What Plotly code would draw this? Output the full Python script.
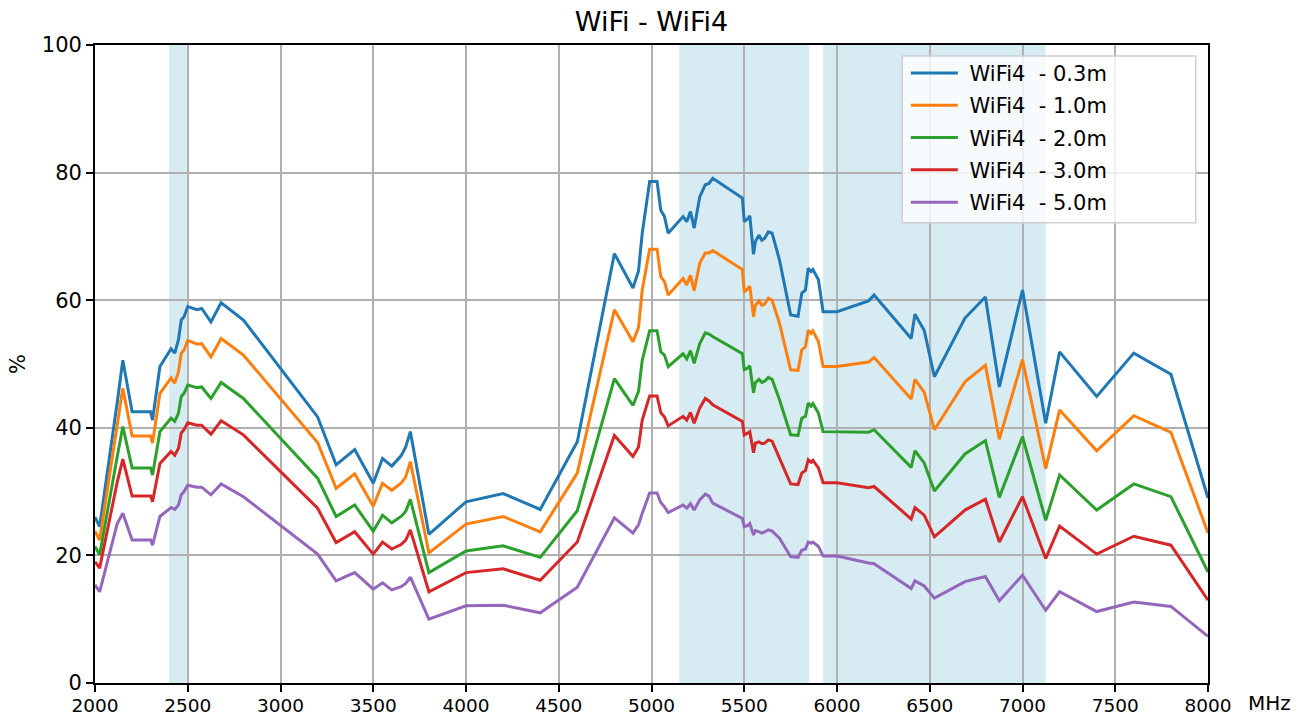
import plotly.graph_objects as go

freq = [2000, 2025, 2120, 2150, 2200, 2300, 2310, 2350, 2410, 2430, 2450, 2465, 2480, 2500,
        2550, 2575, 2625, 2680, 2800, 3200, 3300, 3400, 3500, 3550, 3600, 3650, 3675, 3700,
        3800, 4000, 4200, 4400, 4600, 4800, 4900, 4930, 4950, 4990, 5030, 5050, 5070, 5090,
        5170, 5190, 5210, 5230, 5260, 5290, 5310, 5330, 5490, 5500, 5520, 5530, 5550, 5560,
        5580, 5595, 5610, 5630, 5650, 5690, 5750, 5790, 5810, 5830, 5845, 5860, 5870, 5900,
        5925, 6000, 6170, 6200, 6400, 6420, 6470, 6525, 6690, 6800, 6875, 7000, 7125, 7200,
        7400, 7600, 7800, 8000]

wifi4_03 = [26.0, 24.5, 44.0, 50.6, 42.5, 42.5, 41.2, 49.6, 52.4, 51.7, 53.8, 56.9, 57.4, 59.0,
            58.5, 58.7, 56.6, 59.6, 56.9, 41.7, 34.2, 36.6, 31.3, 35.2, 34.0, 35.6, 37.0, 39.4,
            23.3, 28.4, 29.7, 27.2, 37.8, 67.3, 61.9, 64.6, 70.5, 78.6, 78.6, 74.1, 73.1, 70.5,
            73.1, 72.3, 73.9, 71.3, 76.2, 78.1, 78.3, 79.1, 76.0, 72.3, 72.8, 73.2, 67.2, 69.2,
            70.2, 69.4, 69.7, 70.7, 70.5, 66.3, 57.7, 57.5, 61.1, 61.6, 65.0, 64.5, 64.8, 63.2,
            58.2, 58.2, 59.9, 60.8, 54.0, 57.8, 55.3, 48.0, 57.2, 60.5, 46.4, 61.6, 40.7, 51.9,
            44.9, 51.7, 48.4, 29.0]

wifi4_10 = [23.8, 22.4, 40.5, 46.2, 38.7, 38.7, 37.6, 45.4, 47.8, 47.0, 48.8, 51.7, 52.2, 53.7,
            53.1, 53.2, 51.1, 54.0, 51.4, 37.7, 30.5, 32.8, 27.7, 31.3, 30.2, 31.3, 32.3, 34.7,
            20.4, 24.9, 26.1, 23.7, 32.9, 58.5, 53.5, 55.7, 61.6, 68.0, 68.0, 63.7, 62.9, 60.8,
            63.4, 62.4, 63.9, 61.5, 65.8, 67.4, 67.4, 67.8, 64.8, 61.3, 61.8, 62.2, 57.4, 59.2,
            59.9, 59.2, 59.4, 60.3, 60.0, 56.4, 49.1, 49.0, 52.2, 52.7, 55.3, 54.8, 55.2, 53.5,
            49.6, 49.6, 50.3, 51.0, 44.5, 47.6, 45.6, 39.7, 47.2, 49.8, 38.2, 50.7, 33.6, 42.8,
            36.4, 41.9, 39.3, 23.5]

wifi4_20 = [21.4, 20.1, 35.5, 40.2, 33.7, 33.7, 32.6, 39.4, 41.5, 41.0, 42.3, 44.9, 45.4, 46.7,
            46.3, 46.4, 44.6, 47.1, 44.6, 32.1, 26.1, 27.9, 23.8, 26.3, 25.1, 26.1, 26.9, 28.8,
            17.3, 20.7, 21.5, 19.7, 27.0, 47.7, 43.5, 45.7, 50.6, 55.2, 55.2, 51.9, 51.4, 49.6,
            51.6, 50.8, 52.1, 50.1, 53.2, 54.9, 54.7, 54.3, 51.6, 49.1, 49.4, 49.7, 45.5, 47.1,
            47.6, 47.1, 47.3, 47.9, 47.6, 44.4, 38.9, 38.8, 41.5, 41.8, 43.9, 43.4, 43.8, 42.3,
            39.4, 39.4, 39.3, 39.7, 33.8, 36.4, 34.5, 30.1, 35.9, 38.0, 29.1, 38.6, 25.5, 32.6,
            27.1, 31.2, 29.2, 17.4]

wifi4_30 = [19.0, 18.0, 31.5, 35.1, 29.3, 29.3, 28.4, 34.4, 36.3, 35.7, 36.8, 39.2, 39.7, 40.8,
            40.4, 40.4, 39.0, 41.1, 38.9, 27.4, 22.0, 23.7, 20.2, 22.1, 21.0, 21.7, 22.4, 24.0,
            14.3, 17.3, 17.9, 16.1, 22.1, 38.8, 35.5, 37.0, 41.2, 45.0, 45.0, 42.4, 41.7, 40.3,
            41.8, 41.2, 42.4, 40.7, 43.1, 44.6, 44.2, 43.6, 41.0, 38.9, 39.2, 39.4, 36.1, 37.6,
            37.8, 37.5, 37.6, 38.1, 37.9, 35.2, 31.2, 31.1, 32.9, 33.3, 35.0, 34.6, 34.9, 33.7,
            31.4, 31.4, 30.6, 30.8, 25.7, 27.5, 26.3, 22.9, 27.1, 28.8, 22.1, 29.2, 19.5, 24.6,
            20.2, 23.0, 21.6, 13.0]

wifi4_50 = [15.4, 14.3, 25.0, 26.6, 22.4, 22.4, 21.6, 26.1, 27.5, 27.2, 27.9, 29.5, 30.0, 31.0,
            30.7, 30.7, 29.5, 31.2, 29.2, 20.2, 16.0, 17.3, 14.7, 15.7, 14.6, 15.1, 15.6, 16.6,
            10.0, 12.1, 12.2, 11.0, 15.0, 25.9, 23.5, 24.8, 26.6, 29.8, 29.8, 28.3, 27.6, 26.7,
            27.9, 27.4, 28.1, 27.1, 28.7, 29.6, 29.3, 28.2, 25.8, 24.5, 24.7, 25.0, 23.2, 23.9,
            23.7, 23.5, 23.7, 24.0, 23.8, 22.7, 19.8, 19.7, 20.8, 21.0, 22.1, 21.9, 22.1, 21.4,
            19.9, 19.9, 18.8, 18.7, 14.8, 16.0, 15.2, 13.3, 15.9, 16.7, 12.9, 16.9, 11.4, 14.3,
            11.2, 12.7, 12.0, 7.3]

series_names = ["\u00a0WiFi4 \u00a0- 0.3m", "\u00a0WiFi4 \u00a0- 1.0m", "\u00a0WiFi4 \u00a0- 2.0m",
                "\u00a0WiFi4 \u00a0- 3.0m", "\u00a0WiFi4 \u00a0- 5.0m"]
series_values = [wifi4_03, wifi4_10, wifi4_20, wifi4_30, wifi4_50]
colors = ["#1f77b4", "#ff7f0e", "#2ca02c", "#d62728", "#9467bd"]

# WiFi bands shaded in the background
bands = [(2400, 2500), (5150, 5850), (5925, 7125)]

fig = go.Figure()
for name, vals, col in zip(series_names, series_values, colors):
    fig.add_trace(go.Scatter(x=freq, y=vals, mode="lines", name=name, legendgroup=name,
                             line=dict(color=col, width=3)))

for x0, x1 in bands:
    fig.add_vrect(x0=x0, x1=x1, fillcolor="#add8e6", opacity=0.5, line_width=0, layer="below")

# legend frame (semi-transparent white box like matplotlib)
fig.add_shape(type="rect", xref="paper", yref="paper", x0=0.7253, x1=0.989, y0=0.7215, y1=0.9828,
              fillcolor="rgba(255,255,255,0.8)", line=dict(color="#d0d0d0", width=1.5), layer="above")

axis_common = dict(
    showline=True, linecolor="black", linewidth=1.7, mirror=True,
    ticks="outside", ticklen=7, tickwidth=1.7, tickcolor="black",
    showgrid=True, gridcolor="#b0b0b0", gridwidth=1.7, zeroline=False,
    automargin=False,
)

fig.update_layout(
    width=1303, height=717,
    margin=dict(l=95, r=95, t=45, b=34),
    paper_bgcolor="white", plot_bgcolor="white",
    font=dict(family="DejaVu Sans", color="black"),
    title=dict(text="WiFi - WiFi4", x=0.5, xref="paper", xanchor="center", y=0.9693,
               yanchor="middle", font=dict(size=27), automargin=False),
    xaxis=dict(range=[2000, 8000], tickvals=list(range(2000, 8001, 500)),
               tickfont=dict(size=18.5, color="black"), ticklabelstandoff=-2, **axis_common),
    yaxis=dict(range=[0, 100], tickvals=list(range(0, 101, 20)),
               tickfont=dict(size=21, color="black"), **axis_common),
    legend=dict(x=0.7285, xanchor="left", y=0.9878, yanchor="top",
                bgcolor="rgba(0,0,0,0)", borderwidth=0,
                font=dict(size=21), itemwidth=47, tracegroupgap=2),
    showlegend=True,
)

fig.add_annotation(text="MHz", xref="paper", yref="paper", x=1.0, y=0, xshift=38, yshift=-20,
                   xanchor="left", yanchor="middle", showarrow=False, font=dict(size=20))
fig.add_annotation(text="%", xref="paper", yref="paper", x=0, y=0.5, xshift=-77,
                   xanchor="center", yanchor="middle", textangle=-90, showarrow=False,
                   font=dict(size=21))

# drop the default page margin so the figure fills the window exactly
fig.write_html("out.html", config={"displayModeBar": False},
               post_script="document.body.style.margin='0';")
